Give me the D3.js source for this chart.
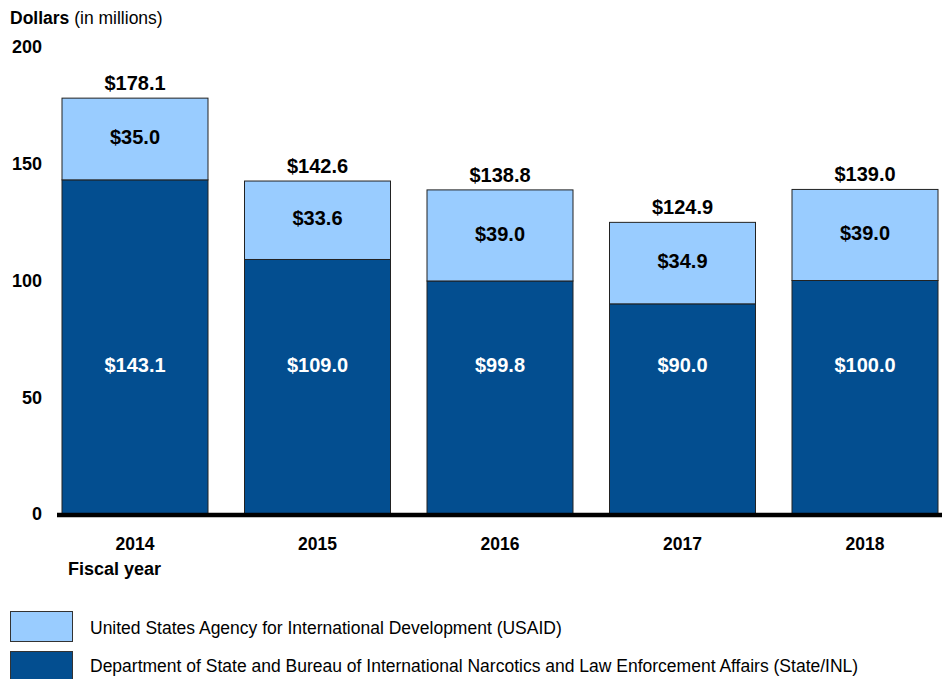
<!DOCTYPE html>
<html>
<head>
<meta charset="utf-8">
<script src="https://cdn.jsdelivr.net/npm/d3@7"></script>
<style>
  body { margin: 0; background: #fff; }
  svg { font-family: "Liberation Sans", Arial, sans-serif; }
</style>
</head>
<body>
<div id="chart"></div>
<script>
const years = ['2014', '2015', '2016', '2017', '2018'];
const stateInl = [143.1, 109.0, 99.8, 90.0, 100.0];
const usaid = [35.0, 33.6, 39.0, 34.9, 39.0];
const totals = [178.1, 142.6, 138.8, 124.9, 139.0];
const yTicks = [0, 50, 100, 150, 200];
const legendLabels = [
  'United States Agency for International Development (USAID)',
  'Department of State and Bureau of International Narcotics and Law Enforcement Affairs (State/INL)'
];

const width = 949;
const height = 679;
const lightBlue = '#99ccff';
const darkBlue = '#034e90';

const svg = d3.select('#chart')
  .append('svg')
  .attr('width', width)
  .attr('height', height);

const x = d3.scaleBand()
  .domain(years)
  .range([62, 938])
  .paddingInner(0.2)
  .paddingOuter(0);

const y = d3.scaleLinear()
  .domain([0, 200])
  .range([514, 47]);

// y axis title
const title = svg.append('text')
  .attr('x', 10)
  .attr('y', 24)
  .attr('font-size', 17.5);
title.append('tspan').attr('font-weight', 'bold').text('Dollars');
title.append('tspan').text(' (in millions)');

// y tick labels (no axis line)
svg.append('g')
  .selectAll('text')
  .data(yTicks)
  .join('text')
  .attr('x', 42)
  .attr('y', d => y(d))
  .attr('dy', '0.36em')
  .attr('text-anchor', 'end')
  .attr('font-size', 18)
  .attr('font-weight', 'bold')
  .text(d => d);

// bars
const bars = svg.append('g');
years.forEach((yr, i) => {
  bars.append('rect')
    .attr('x', x(yr))
    .attr('y', y(stateInl[i]))
    .attr('width', x.bandwidth())
    .attr('height', y(0) - y(stateInl[i]))
    .attr('fill', darkBlue)
    .attr('stroke', '#222')
    .attr('stroke-width', 1);
  bars.append('rect')
    .attr('x', x(yr))
    .attr('y', y(stateInl[i] + usaid[i]))
    .attr('width', x.bandwidth())
    .attr('height', y(stateInl[i]) - y(stateInl[i] + usaid[i]))
    .attr('fill', lightBlue)
    .attr('stroke', '#222')
    .attr('stroke-width', 1);
});

// labels
const labels = svg.append('g')
  .attr('font-size', 20)
  .attr('font-weight', 'bold')
  .attr('text-anchor', 'middle');

years.forEach((yr, i) => {
  const cx = x(yr) + x.bandwidth() / 2;
  labels.append('text')
    .attr('x', cx)
    .attr('y', y(totals[i]) - 8)
    .attr('fill', '#000')
    .text('$' + totals[i].toFixed(1));
  labels.append('text')
    .attr('x', cx)
    .attr('y', (y(stateInl[i]) + y(stateInl[i] + usaid[i])) / 2 - 2)
    .attr('dy', '0.36em')
    .attr('fill', '#000')
    .text('$' + usaid[i].toFixed(1));
  labels.append('text')
    .attr('x', cx)
    .attr('y', y(64))
    .attr('dy', '0.36em')
    .attr('fill', '#fff')
    .text('$' + stateInl[i].toFixed(1));
});

// x axis
const xAxis = svg.append('g')
  .attr('transform', `translate(0,${y(0)})`)
  .call(d3.axisBottom(x).tickSize(0).tickPadding(24));
xAxis.select('.domain').remove();
xAxis.selectAll('text')
  .attr('font-size', 17.5)
  .attr('font-weight', 'bold')
  .attr('fill', '#000')
  .attr('font-family', '"Liberation Sans", Arial, sans-serif');

svg.append('line')
  .attr('x1', 57)
  .attr('x2', 942)
  .attr('y1', y(0) + 1)
  .attr('y2', y(0) + 1)
  .attr('stroke', '#000')
  .attr('stroke-width', 4.5);

svg.append('text')
  .attr('x', 68)
  .attr('y', 575)
  .attr('font-size', 18)
  .attr('font-weight', 'bold')
  .text('Fiscal year');

// legend
const legend = svg.append('g');
[lightBlue, darkBlue].forEach((c, i) => {
  legend.append('rect')
    .attr('x', 10.5)
    .attr('y', 611.5 + i * 40)
    .attr('width', 62)
    .attr('height', 30)
    .attr('fill', c)
    .attr('stroke', '#333')
    .attr('stroke-width', 1);
  legend.append('text')
    .attr('x', 90)
    .attr('y', 628 + i * 38)
    .attr('dy', '0.36em')
    .attr('font-size', 17.5)
    .text(legendLabels[i]);
});
</script>
</body>
</html>
